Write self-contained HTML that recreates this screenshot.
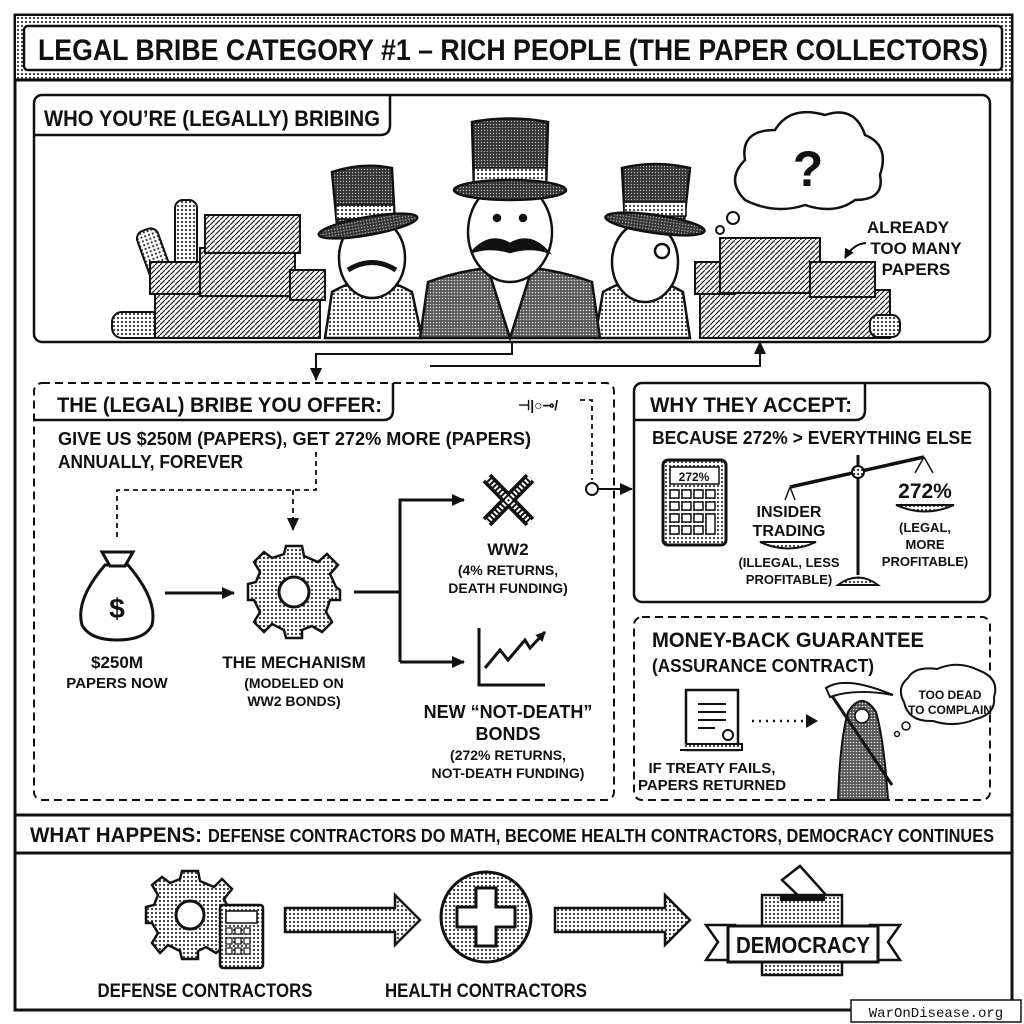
<!DOCTYPE html>
<html><head><meta charset="utf-8"><style>
html,body{margin:0;padding:0;background:#fff}
svg{display:block}
text{font-family:"Liberation Sans",sans-serif;font-weight:bold;fill:#111}
</style></head><body>
<svg width="1024" height="1024" viewBox="0 0 1024 1024" xmlns="http://www.w3.org/2000/svg">
<defs>
<pattern id="dots" width="4" height="4" patternUnits="userSpaceOnUse"><rect width="4" height="4" fill="#fff"/><circle cx="2" cy="2" r="1.1" fill="#333"/></pattern>
<pattern id="dk" width="3" height="3" patternUnits="userSpaceOnUse"><rect width="3" height="3" fill="#555"/><circle cx="1.5" cy="1.5" r="0.8" fill="#ddd"/></pattern>
<pattern id="hat" width="3" height="3" patternUnits="userSpaceOnUse"><rect width="3" height="3" fill="#333"/><circle cx="1.5" cy="1.5" r="0.7" fill="#bbb"/></pattern>
<pattern id="bill" width="5" height="5" patternUnits="userSpaceOnUse"><rect width="5" height="5" fill="#fff"/><line x1="0" y1="5" x2="5" y2="0" stroke="#222" stroke-width="1.2"/></pattern>
<marker id="ar" markerUnits="userSpaceOnUse" markerWidth="14" markerHeight="14" refX="12" refY="7" orient="auto"><path d="M0,1 L13,7 L0,13 z" fill="#111"/></marker>
<marker id="sa" markerUnits="userSpaceOnUse" markerWidth="10" markerHeight="10" refX="9" refY="5" orient="auto"><path d="M0,0 L10,5 L0,10 z" fill="#111"/></marker>
</defs>
<rect width="1024" height="1024" fill="#fff"/>
<rect x="15" y="15" width="997" height="995" fill="none" stroke="#111" stroke-width="3"/>
<rect x="16" y="16" width="995" height="63" fill="url(#dots)"/>
<line x1="15" y1="80" x2="1012" y2="80" stroke="#111" stroke-width="3"/>
<rect x="24" y="26" width="978" height="44" rx="4" fill="#fff" stroke="#111" stroke-width="2.5"/>
<text x="513" y="60" font-size="30" text-anchor="middle" textLength="950" lengthAdjust="spacingAndGlyphs">LEGAL BRIBE CATEGORY #1 – RICH PEOPLE (THE PAPER COLLECTORS)</text>

<!-- panel1 -->
<rect x="34" y="95" width="956" height="247" rx="8" fill="#fff" stroke="#111" stroke-width="2.5"/>
<path d="M34,135 H380 Q390,135 390,125 V95" fill="none" stroke="#111" stroke-width="2.5"/>
<text x="44" y="126" font-size="22" textLength="336" lengthAdjust="spacingAndGlyphs">WHO YOU’RE (LEGALLY) BRIBING</text>
<g stroke="#111" stroke-width="2">
<rect x="145" y="228" width="22" height="70" rx="8" fill="url(#dots)" transform="rotate(-20 156 260)"/>
<rect x="175" y="200" width="22" height="70" rx="8" fill="url(#dots)"/>
<rect x="112" y="312" width="50" height="26" rx="10" fill="url(#dots)"/>
<rect x="155" y="290" width="165" height="48" fill="url(#bill)"/>
<rect x="150" y="262" width="60" height="32" fill="url(#bill)"/>
<rect x="200" y="248" width="95" height="48" fill="url(#bill)"/>
<rect x="205" y="215" width="95" height="38" fill="url(#bill)"/>
<rect x="290" y="270" width="35" height="30" fill="url(#bill)"/>
<rect x="700" y="290" width="190" height="48" fill="url(#bill)"/>
<rect x="695" y="262" width="40" height="32" fill="url(#bill)"/>
<rect x="720" y="238" width="100" height="55" fill="url(#bill)"/>
<rect x="810" y="262" width="65" height="35" fill="url(#bill)"/>
<rect x="870" y="315" width="30" height="22" rx="8" fill="url(#dots)"/>
</g>
<g stroke="#111" stroke-width="2.5">
<!-- left -->
<path d="M325,338 L332,292 Q372,268 412,292 L422,338 Z" fill="url(#dots)"/>
<ellipse cx="372" cy="258" rx="33" ry="40" fill="#fff"/>
<path d="M332,172 Q362,162 392,168 L395,225 Q365,230 337,225 Z" fill="url(#hat)"/>
<rect x="336" y="205" width="58" height="14" fill="url(#dots)" stroke-width="1.5"/>
<ellipse cx="368" cy="226" rx="50" ry="9" fill="url(#hat)" transform="rotate(-10 368 226)"/>
<path d="M348,270 Q372,255 396,270" fill="none" stroke-width="5"/>
<!-- right -->
<path d="M595,338 L603,292 Q643,268 683,292 L690,338 Z" fill="url(#dots)"/>
<ellipse cx="645" cy="262" rx="33" ry="40" fill="#fff"/>
<path d="M622,168 Q655,160 690,168 L684,222 Q655,228 625,222 Z" fill="url(#hat)"/>
<rect x="624" y="202" width="62" height="14" fill="url(#dots)" stroke-width="1.5"/>
<ellipse cx="655" cy="224" rx="50" ry="9" fill="url(#hat)" transform="rotate(8 655 224)"/>
<circle cx="662" cy="251" r="7" fill="#fff"/>
<!-- center -->
<path d="M420,338 L428,282 Q510,252 592,282 L600,338 Z" fill="url(#dk)"/>
<path d="M490,275 L510,338 L530,275 Z" fill="#fff"/>
<ellipse cx="510" cy="232" rx="42" ry="50" fill="#fff"/>
<path d="M472,122 Q510,115 548,122 L546,190 H474 Z" fill="url(#hat)"/>
<rect x="474" y="168" width="72" height="16" fill="url(#dots)" stroke-width="1.5"/>
<ellipse cx="510" cy="190" rx="56" ry="10" fill="url(#hat)"/>
<path d="M472,252 Q490,232 510,244 Q530,232 548,252 Q530,246 510,252 Q490,246 472,252" fill="#111"/>
<circle cx="497" cy="218" r="3" fill="#111"/><circle cx="523" cy="218" r="3" fill="#111"/>
</g>
<path d="M745,200 Q725,180 745,160 Q740,130 775,130 Q790,105 825,115 Q855,105 865,135 Q890,145 880,175 Q885,200 855,200 Q835,215 805,205 Q775,215 745,200 Z" fill="#fff" stroke="#111" stroke-width="2.5"/>
<text x="808" y="186" font-size="50" text-anchor="middle">?</text>
<circle cx="733" cy="218" r="6" fill="#fff" stroke="#111" stroke-width="2"/>
<circle cx="720" cy="230" r="4" fill="#fff" stroke="#111" stroke-width="2"/>
<text x="908" y="233" font-size="17" text-anchor="middle">ALREADY</text>
<text x="916" y="254" font-size="17" text-anchor="middle">TOO MANY</text>
<text x="916" y="275" font-size="17" text-anchor="middle">PAPERS</text>
<path d="M866,243 Q853,244 845,258" fill="none" stroke="#111" stroke-width="2" marker-end="url(#sa)"/>
<path d="M512,342 V354 H316 V380" fill="none" stroke="#111" stroke-width="2" marker-end="url(#ar)"/>
<path d="M430,366 H760 V342" fill="none" stroke="#111" stroke-width="2" marker-end="url(#ar)"/>

<!-- panel2 -->
<rect x="34" y="383" width="580" height="417" rx="8" fill="#fff" stroke="#111" stroke-width="2" stroke-dasharray="8,5"/>
<path d="M34,420 H383 Q393,420 393,410 V383" fill="none" stroke="#111" stroke-width="2.5"/>
<text x="57" y="412" font-size="21" textLength="325" lengthAdjust="spacingAndGlyphs">THE (LEGAL) BRIBE YOU OFFER:</text>
<text x="58" y="445" font-size="18" textLength="473" lengthAdjust="spacingAndGlyphs">GIVE US $250M (PAPERS), GET 272% MORE (PAPERS)</text>
<text x="58" y="468" font-size="18" textLength="185" lengthAdjust="spacingAndGlyphs">ANNUALLY, FOREVER</text>
<text x="518" y="410" font-size="14">⊣|○⊸/</text>
<path d="M316,452 V490 H117 V540" fill="none" stroke="#111" stroke-width="1.8" stroke-dasharray="5,4"/>
<path d="M293,490 V530" fill="none" stroke="#111" stroke-width="1.8" stroke-dasharray="5,4" marker-end="url(#ar)"/>
<path d="M580,400 H592 V480" fill="none" stroke="#111" stroke-width="1.8" stroke-dasharray="5,4"/>
<circle cx="592" cy="489" r="6" fill="#fff" stroke="#111" stroke-width="2"/>
<path d="M598,489 H632" stroke="#111" stroke-width="2" marker-end="url(#ar)"/>
<path d="M105,565 Q75,600 82,625 Q90,640 117,640 Q145,640 152,625 Q158,600 128,565 Z" fill="#fff" stroke="#111" stroke-width="3"/>
<path d="M102,552 L133,552 L125,566 L110,566 Z" fill="#fff" stroke="#111" stroke-width="3"/>
<text x="117" y="618" font-size="28" text-anchor="middle">$</text>
<text x="117" y="668" font-size="17" text-anchor="middle">$250M</text>
<text x="117" y="688" font-size="15" text-anchor="middle">PAPERS NOW</text>
<path d="M165,593 H234" stroke="#111" stroke-width="3" marker-end="url(#ar)"/>
<g transform="translate(294,592)">
<path d="M-8,-46 H8 L10,-36 L24,-30 L33,-38 L44,-27 L36,-18 L42,-5 L46,-2 V8 H36 L32,20 L38,30 L28,40 L18,34 L8,38 V46 H-8 L-10,38 L-22,32 L-30,40 L-40,30 L-34,20 L-40,8 L-46,8 V-8 L-38,-10 L-34,-20 L-40,-30 L-30,-40 L-22,-34 L-10,-38 Z" fill="url(#dots)" stroke="#111" stroke-width="2.5"/>
<circle r="15" fill="#fff" stroke="#111" stroke-width="3"/>
</g>
<text x="294" y="668" font-size="17" text-anchor="middle">THE MECHANISM</text>
<text x="294" y="688" font-size="14" text-anchor="middle">(MODELED ON</text>
<text x="294" y="706" font-size="14" text-anchor="middle">WW2 BONDS)</text>
<path d="M354,592 H400" stroke="#111" stroke-width="3" fill="none"/>
<path d="M400,662 V500 H464" fill="none" stroke="#111" stroke-width="3" marker-end="url(#ar)"/>
<path d="M400,662 H464" fill="none" stroke="#111" stroke-width="3" marker-end="url(#ar)"/>
<path d="M487,478 L530,522 M530,478 L487,522" stroke="#111" stroke-width="12"/>
<path d="M487,478 L530,522 M530,478 L487,522" stroke="#fff" stroke-width="5" stroke-dasharray="2,2"/>
<text x="508" y="555" font-size="17" text-anchor="middle">WW2</text>
<text x="508" y="575" font-size="14" text-anchor="middle">(4% RETURNS,</text>
<text x="508" y="593" font-size="14" text-anchor="middle">DEATH FUNDING)</text>
<path d="M479,628 V685 H545" fill="none" stroke="#111" stroke-width="3"/>
<path d="M485,668 L500,650 L508,660 L525,640 L530,648 L545,632" fill="none" stroke="#111" stroke-width="3" marker-end="url(#sa)"/>
<text x="508" y="718" font-size="18" text-anchor="middle">NEW “NOT-DEATH”</text>
<text x="508" y="740" font-size="18" text-anchor="middle">BONDS</text>
<text x="508" y="760" font-size="14" text-anchor="middle">(272% RETURNS,</text>
<text x="508" y="778" font-size="14" text-anchor="middle">NOT-DEATH FUNDING)</text>

<!-- panel3 -->
<rect x="634" y="383" width="356" height="219" rx="8" fill="#fff" stroke="#111" stroke-width="2.5"/>
<path d="M634,420 H855 Q865,420 865,410 V383" fill="none" stroke="#111" stroke-width="2.5"/>
<text x="650" y="412" font-size="21" textLength="202" lengthAdjust="spacingAndGlyphs">WHY THEY ACCEPT:</text>
<text x="652" y="444" font-size="18" textLength="320" lengthAdjust="spacingAndGlyphs">BECAUSE 272% &gt; EVERYTHING ELSE</text>
<rect x="663" y="460" width="63" height="85" rx="5" fill="url(#dots)" stroke="#111" stroke-width="3"/>
<rect x="670" y="467" width="49" height="17" fill="#fff" stroke="#111" stroke-width="1.5"/>
<text x="694" y="481" font-size="12" text-anchor="middle" font-weight="normal">272%</text>
<g fill="#fff" stroke="#111" stroke-width="1.5">
<rect x="670" y="490" width="9" height="8"/><rect x="682" y="490" width="9" height="8"/><rect x="694" y="490" width="9" height="8"/><rect x="706" y="490" width="9" height="8"/>
<rect x="670" y="502" width="9" height="8"/><rect x="682" y="502" width="9" height="8"/><rect x="694" y="502" width="9" height="8"/><rect x="706" y="502" width="9" height="8"/>
<rect x="670" y="514" width="9" height="8"/><rect x="682" y="514" width="9" height="8"/><rect x="694" y="514" width="9" height="8"/><rect x="706" y="514" width="9" height="20"/>
<rect x="670" y="526" width="9" height="8"/><rect x="682" y="526" width="9" height="8"/><rect x="694" y="526" width="9" height="8"/>
</g>
<line x1="858" y1="455" x2="858" y2="575" stroke="#111" stroke-width="3"/>
<line x1="790" y1="487" x2="924" y2="457" stroke="#111" stroke-width="3.5"/>
<circle cx="858" cy="472" r="6" fill="url(#dots)" stroke="#111" stroke-width="2"/>
<path d="M838,585 Q858,570 878,585 Z" fill="url(#dots)" stroke="#111" stroke-width="2"/>
<path d="M790,487 L785,500 M790,487 L795,500 M924,457 L915,473 M924,457 L933,473" stroke="#111" stroke-width="1.5"/>
<text x="789" y="517" font-size="16" text-anchor="middle">INSIDER</text>
<text x="789" y="536" font-size="16" text-anchor="middle">TRADING</text>
<path d="M760,542 Q788,555 816,542 Z" fill="url(#dots)" stroke="#111" stroke-width="2"/>
<text x="789" y="567" font-size="13" text-anchor="middle">(ILLEGAL, LESS</text>
<text x="789" y="584" font-size="13" text-anchor="middle">PROFITABLE)</text>
<text x="925" y="498" font-size="21" text-anchor="middle" font-weight="normal">272%</text>
<path d="M896,505 Q925,518 954,505 Z" fill="url(#dots)" stroke="#111" stroke-width="2"/>
<text x="925" y="532" font-size="13" text-anchor="middle">(LEGAL,</text>
<text x="925" y="549" font-size="13" text-anchor="middle">MORE</text>
<text x="925" y="566" font-size="13" text-anchor="middle">PROFITABLE)</text>

<!-- panel4 -->
<rect x="634" y="617" width="356" height="183" rx="8" fill="#fff" stroke="#111" stroke-width="2" stroke-dasharray="8,5"/>
<text x="652" y="647" font-size="21" textLength="272" lengthAdjust="spacingAndGlyphs">MONEY-BACK GUARANTEE</text>
<text x="652" y="672" font-size="18" textLength="222" lengthAdjust="spacingAndGlyphs">(ASSURANCE CONTRACT)</text>
<rect x="686" y="690" width="52" height="60" fill="#fff" stroke="#111" stroke-width="2.5"/>
<path d="M680,750 H742 V744 H686" fill="url(#dots)" stroke="#111" stroke-width="2"/>
<g stroke="#111" stroke-width="2"><line x1="698" y1="704" x2="726" y2="704"/><line x1="698" y1="712" x2="726" y2="712"/><line x1="698" y1="720" x2="726" y2="720"/><line x1="698" y1="728" x2="715" y2="728"/></g>
<circle cx="728" cy="735" r="5" fill="#fff" stroke="#111" stroke-width="2"/>
<text x="712" y="773" font-size="15" text-anchor="middle">IF TREATY FAILS,</text>
<text x="712" y="790" font-size="15" text-anchor="middle">PAPERS RETURNED</text>
<path d="M752,721 H816" stroke="#111" stroke-width="2.5" stroke-dasharray="2,5"/>
<path d="M806,714 L818,721 L806,728 Z" fill="#111"/>
<path d="M838,800 Q840,740 848,712 Q862,690 876,712 Q884,740 888,800 Z" fill="url(#dk)" stroke="#111" stroke-width="2"/>
<circle cx="862" cy="716" r="7" fill="#fff" stroke="#111" stroke-width="1.5"/>
<path d="M828,690 L892,785" stroke="#111" stroke-width="3"/>
<path d="M826,688 Q845,675 893,695 Q855,688 830,697 Z" fill="#fff" stroke="#111" stroke-width="2"/>
<path d="M904,702 Q896,688 908,678 Q915,666 937,669 Q958,660 978,670 Q1000,678 994,697 Q996,714 976,719 Q955,728 933,721 Q908,722 904,702 Z" fill="#fff" stroke="#111" stroke-width="2"/>
<text x="950" y="699" font-size="12" text-anchor="middle">TOO DEAD</text>
<text x="950" y="714" font-size="12" text-anchor="middle" textLength="84" lengthAdjust="spacingAndGlyphs">TO COMPLAIN</text>
<circle cx="906" cy="726" r="4" fill="#fff" stroke="#111" stroke-width="1.5"/>
<circle cx="897" cy="734" r="2.5" fill="#fff" stroke="#111" stroke-width="1.5"/>

<!-- bottom -->
<line x1="15" y1="815" x2="1012" y2="815" stroke="#111" stroke-width="3"/>
<line x1="15" y1="853" x2="1012" y2="853" stroke="#111" stroke-width="3"/>
<text x="30" y="842" font-size="21" textLength="172" lengthAdjust="spacingAndGlyphs">WHAT HAPPENS:</text>
<text x="208" y="842" font-size="18" textLength="786" lengthAdjust="spacingAndGlyphs">DEFENSE CONTRACTORS DO MATH, BECOME HEALTH CONTRACTORS, DEMOCRACY CONTINUES</text>
<g transform="translate(190,915)">
<path d="M-8,-44 H8 L10,-34 L24,-28 L32,-36 L42,-26 L34,-16 L40,-4 L44,-2 V8 H34 L30,20 L36,30 L26,38 L16,32 L8,36 V44 H-8 L-10,36 L-22,30 L-30,38 L-38,28 L-32,18 L-38,8 L-44,8 V-8 L-36,-10 L-32,-20 L-38,-30 L-28,-38 L-20,-32 L-10,-36 Z" fill="url(#dots)" stroke="#111" stroke-width="2.5"/>
<circle r="14" fill="#fff" stroke="#111" stroke-width="3"/>
</g>
<rect x="220" y="905" width="43" height="63" rx="3" fill="url(#dots)" stroke="#111" stroke-width="2.5"/>
<rect x="226" y="911" width="31" height="12" fill="#fff" stroke="#111" stroke-width="1.5"/>
<g fill="#fff" stroke="#111" stroke-width="1.2"><rect x="226" y="928" width="6" height="6"/><rect x="235" y="928" width="6" height="6"/><rect x="244" y="928" width="6" height="6"/><rect x="226" y="938" width="6" height="6"/><rect x="235" y="938" width="6" height="6"/><rect x="244" y="938" width="6" height="6"/><rect x="226" y="948" width="6" height="6"/><rect x="235" y="948" width="6" height="6"/><rect x="244" y="948" width="6" height="6"/></g>
<text x="205" y="997" font-size="19" text-anchor="middle" textLength="215" lengthAdjust="spacingAndGlyphs">DEFENSE CONTRACTORS</text>
<path d="M285,908 H395 V895 L420,920 L395,945 V932 H285 Z" fill="url(#dots)" stroke="#111" stroke-width="2.5"/>
<circle cx="486" cy="917" r="45" fill="url(#dots)" stroke="#111" stroke-width="3"/>
<path d="M476,888 H496 V907 H515 V927 H496 V946 H476 V927 H457 V907 H476 Z" fill="#fff" stroke="#111" stroke-width="3"/>
<text x="486" y="997" font-size="19" text-anchor="middle" textLength="202" lengthAdjust="spacingAndGlyphs">HEALTH CONTRACTORS</text>
<path d="M555,908 H665 V895 L690,920 L665,945 V932 H555 Z" fill="url(#dots)" stroke="#111" stroke-width="2.5"/>
<path d="M782,880 L800,866 L826,895 L808,905 Z" fill="#fff" stroke="#111" stroke-width="2.5"/>
<rect x="762" y="895" width="80" height="80" fill="url(#dots)" stroke="#111" stroke-width="2.5"/>
<rect x="780" y="895" width="45" height="6" fill="#111"/>
<path d="M706,925 H735 V960 H706 L718,942 Z" fill="#fff" stroke="#111" stroke-width="2.5"/>
<path d="M900,925 H870 V960 H900 L888,942 Z" fill="#fff" stroke="#111" stroke-width="2.5"/>
<rect x="728" y="926" width="150" height="36" fill="#fff" stroke="#111" stroke-width="3"/>
<text x="803" y="953" font-size="23" text-anchor="middle" textLength="134" lengthAdjust="spacingAndGlyphs">DEMOCRACY</text>
<rect x="851" y="1000" width="170" height="22" fill="#fff" stroke="#111" stroke-width="1.5"/>
<text x="936" y="1017" font-size="14" text-anchor="middle" style="font-family:'Liberation Mono',monospace;font-weight:normal">WarOnDisease.org</text>
</svg>
</body></html>
